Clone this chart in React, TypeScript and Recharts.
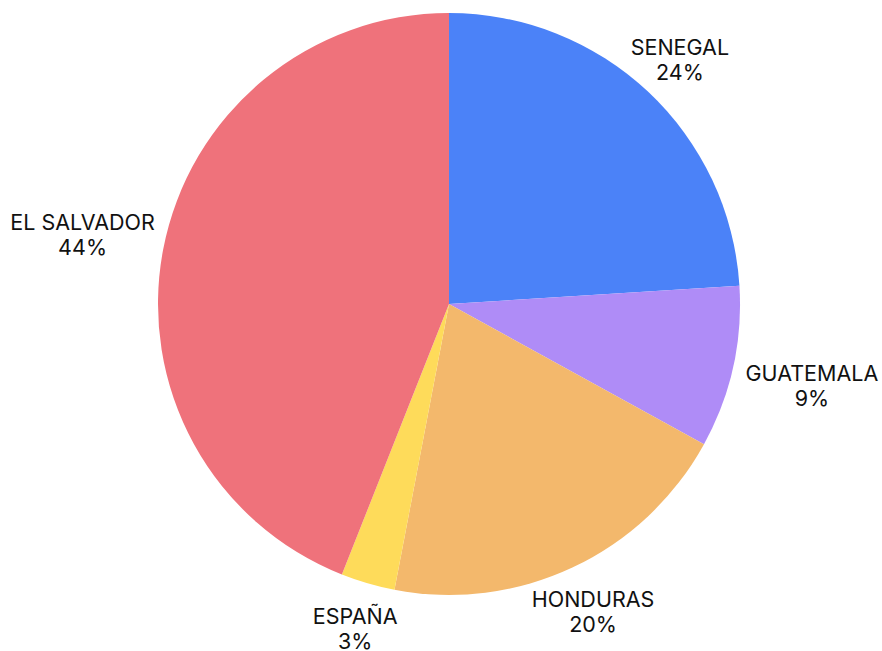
import { PieChart, Pie, Cell } from 'recharts';

const countries = ['SENEGAL', 'GUATEMALA', 'HONDURAS', 'ESPAÑA', 'EL SALVADOR'];
const shares = [24, 9, 20, 3, 44];
const colors = ['#4b82f8', '#af8cf7', '#f3b86c', '#fedb5a', '#ef727b'];

const data = countries.map((name, i) => ({ name, value: shares[i] }));

const RAD = Math.PI / 180;

// centered two-line label pushed outside the pie so the text box clears the edge
function renderLabel(props: any) {
  const { cx, cy, midAngle, outerRadius, name, percent } = props;
  const s = Math.sin(midAngle * RAD);
  const c = Math.cos(midAngle * RAD);
  const hw = String(name).length * 6.8;
  const hh = s < 0 ? 32 : 25;
  const ex = Math.abs(c) > 0.001 ? hw / Math.abs(c) : 1e9;
  const ey = Math.abs(s) > 0.001 ? hh / Math.abs(s) : 1e9;
  const r = outerRadius + 12 + Math.min(ex, ey);
  // side labels sit a little to the right in the original
  const x = cx + r * c + (ex < ey ? 6 : 0);
  const y = cy - r * s;
  return (
    <text
      x={x}
      y={y}
      textAnchor="middle"
      fill="#111"
      fontSize={21.5}
      fontFamily="Inter, sans-serif"
    >
      <tspan x={x} dy={-3}>{name}</tspan>
      <tspan x={x} dy={25}>{`${Math.round(percent * 100)}%`}</tspan>
    </text>
  );
}

export default function App() {
  return (
    <div style={{ position: 'absolute', left: 0, top: 0, background: '#fff' }}>
      <PieChart width={882} height={651} margin={{ top: 0, right: 0, bottom: 0, left: 0 }}>
        <Pie
          data={data}
          dataKey="value"
          nameKey="name"
          cx={449}
          cy={304}
          outerRadius={291}
          startAngle={90}
          endAngle={-270}
          stroke="none"
          label={renderLabel}
          labelLine={false}
          isAnimationActive={false}
        >
          {data.map((d, i) => (
            <Cell key={d.name} fill={colors[i]} />
          ))}
        </Pie>
      </PieChart>
    </div>
  );
}
